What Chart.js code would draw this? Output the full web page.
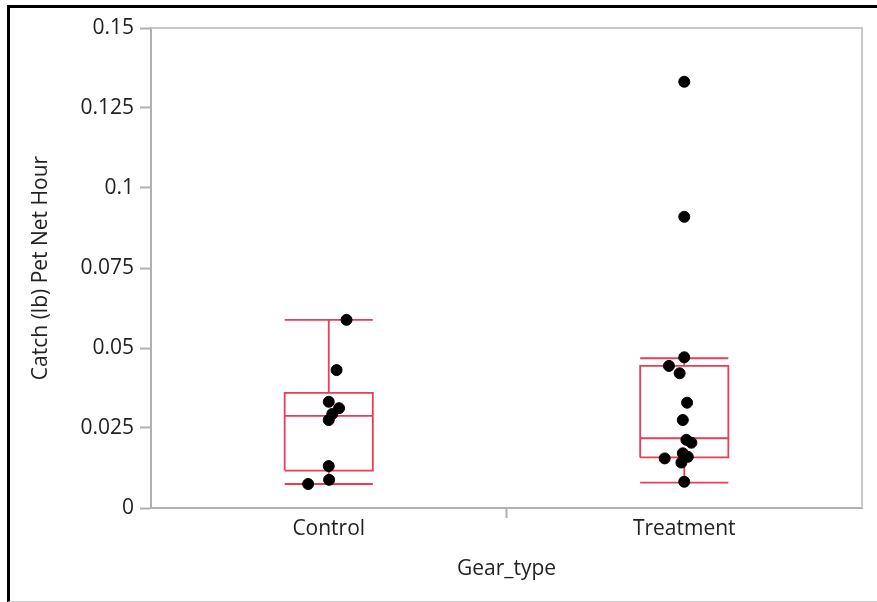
<!DOCTYPE html>
<html>
<head>
<meta charset="utf-8">
<title>Catch per net hour by gear type</title>
<script src="https://cdn.jsdelivr.net/npm/chart.js@4/dist/chart.umd.min.js"></script>
<style>
    html, body { margin: 0; padding: 0; background: #fff; overflow: hidden; }
    #frame {
        position: absolute; left: 7px; top: 5px; width: 880px; height: 597px;
        border-left: 3px solid #000; border-top: 3px solid #000; border-bottom: 1px solid #c8c8c8;
        box-sizing: border-box;
    }
    #chart1 { position: absolute; left: 0; top: 0; }
</style>
</head>
<body>
<div id="frame"></div>
<canvas id="chart1" width="877" height="602"></canvas>
<script>
Chart.defaults.font.family = '"Open Sans", "Noto Sans", sans-serif'
Chart.defaults.color = '#222'

const gearTypes = ['Control', 'Treatment']
const yTicks = [0, 0.025, 0.05, 0.075, 0.1, 0.125, 0.15]

// catch (lb) per net hour, one value per set
const controlCatch = [0.0588, 0.0431, 0.0332, 0.0312, 0.0294, 0.0275, 0.0131, 0.0088, 0.0075]
const controlJitter = [0.05, 0.022, 0, 0.029, 0.01, 0, 0, 0.001, -0.058]
const treatmentCatch = [0.1332, 0.091, 0.0471, 0.0444, 0.0421, 0.0329, 0.0275, 0.0213, 0.0204, 0.0171, 0.016, 0.0155, 0.0142, 0.0082]
const treatmentJitter = [0, 0, 0, -0.043, -0.013, 0.008, -0.004, 0.006, 0.02, -0.004, 0.01, -0.055, -0.008, 0]

// box stats: low whisker, q1, median, q3, high whisker
const controlBox = [0.0075, 0.0117, 0.0288, 0.036, 0.0588]
const treatmentBox = [0.0079, 0.0158, 0.0218, 0.0444, 0.0468]

const RED = '#ea3d55'
const GREY = '#b0b0b0'
const HALF = 0.124

function points(center, values, jitter) {
    return values.map((v, i) => ({ x: center + jitter[i], y: v }))
}

function boxLines(c, [lo, q1, med, q3, hi]) {
    const gap = { x: c, y: null }
    return [
        { x: c - HALF, y: q1 }, { x: c + HALF, y: q1 }, { x: c + HALF, y: q3 }, { x: c - HALF, y: q3 }, { x: c - HALF, y: q1 }, gap,
        { x: c - HALF, y: med }, { x: c + HALF, y: med }, gap,
        { x: c, y: q3 }, { x: c, y: hi }, gap,
        { x: c - HALF, y: hi }, { x: c + HALF, y: hi }, gap,
        { x: c, y: q1 }, { x: c, y: lo }, gap,
        { x: c - HALF, y: lo }, { x: c + HALF, y: lo }
    ]
}

const dotStyle = { type: 'scatter', backgroundColor: '#000', borderColor: '#000', pointRadius: 5.5, pointHoverRadius: 5.5 }
const lineStyle = { type: 'line', borderColor: RED, borderWidth: 1.8, pointRadius: 0, spanGaps: false, fill: false }

const data = {
    datasets: [
        { ...dotStyle, label: gearTypes[0], data: points(1, controlCatch, controlJitter) },
        { ...dotStyle, label: gearTypes[1], data: points(2, treatmentCatch, treatmentJitter) },
        { ...lineStyle, label: 'box ' + gearTypes[0], data: boxLines(1, controlBox) },
        { ...lineStyle, label: 'box ' + gearTypes[1], data: boxLines(2, treatmentBox) }
    ]
}

// light frame on top and right of the plot
const plotFrame = {
    id: 'plotFrame',
    beforeDatasetsDraw(chart) {
        const { ctx, chartArea: a } = chart
        ctx.save()
        ctx.strokeStyle = '#c8c8c8'
        ctx.lineWidth = 2
        ctx.beginPath()
        ctx.moveTo(a.left, a.top)
        ctx.lineTo(a.right, a.top)
        ctx.lineTo(a.right, a.bottom)
        ctx.stroke()
        ctx.restore()
    }
}

const options = {
    responsive: false,
    animation: false,
    layout: { padding: { top: 28, right: 15, left: 0, bottom: 0 } },
    plugins: { legend: { display: false }, tooltip: { enabled: false } },
    scales: {
        x: {
            type: 'linear',
            min: 0.5,
            max: 2.5,
            afterBuildTicks: scale => { scale.ticks = [{ value: 1 }, { value: 1.5 }, { value: 2 }] },
            afterFit: scale => { scale.height = 94 },
            ticks: {
                font: { size: 21 },
                padding: -2,
                maxRotation: 0,
                callback: v => v === 1 ? gearTypes[0] : v === 2 ? gearTypes[1] : ''
            },
            grid: {
                drawOnChartArea: false,
                tickLength: 10,
                tickWidth: 2,
                tickColor: ctx => ctx.tick && ctx.tick.value === 1.5 ? GREY : 'rgba(0,0,0,0)'
            },
            border: { color: GREY, width: 2 },
            title: { display: true, text: 'Gear_type', font: { size: 21 }, padding: { top: 0, bottom: 20 } }
        },
        y: {
            min: 0,
            max: 0.15,
            afterBuildTicks: scale => { scale.ticks = yTicks.map(v => ({ value: v })) },
            afterFit: scale => { scale.width = 151 },
            ticks: { font: { size: 21 }, padding: 6, callback: v => String(+v.toFixed(3)) },
            grid: { drawOnChartArea: false, tickLength: 11, tickWidth: 2, tickColor: GREY },
            border: { color: GREY, width: 2 },
            title: { display: true, text: 'Catch (lb) Pet Net Hour', font: { size: 21 }, padding: { top: 28, bottom: 0 } }
        }
    }
}

new Chart('chart1', { data, options, plugins: [plotFrame] })
</script>
</body>
</html>
